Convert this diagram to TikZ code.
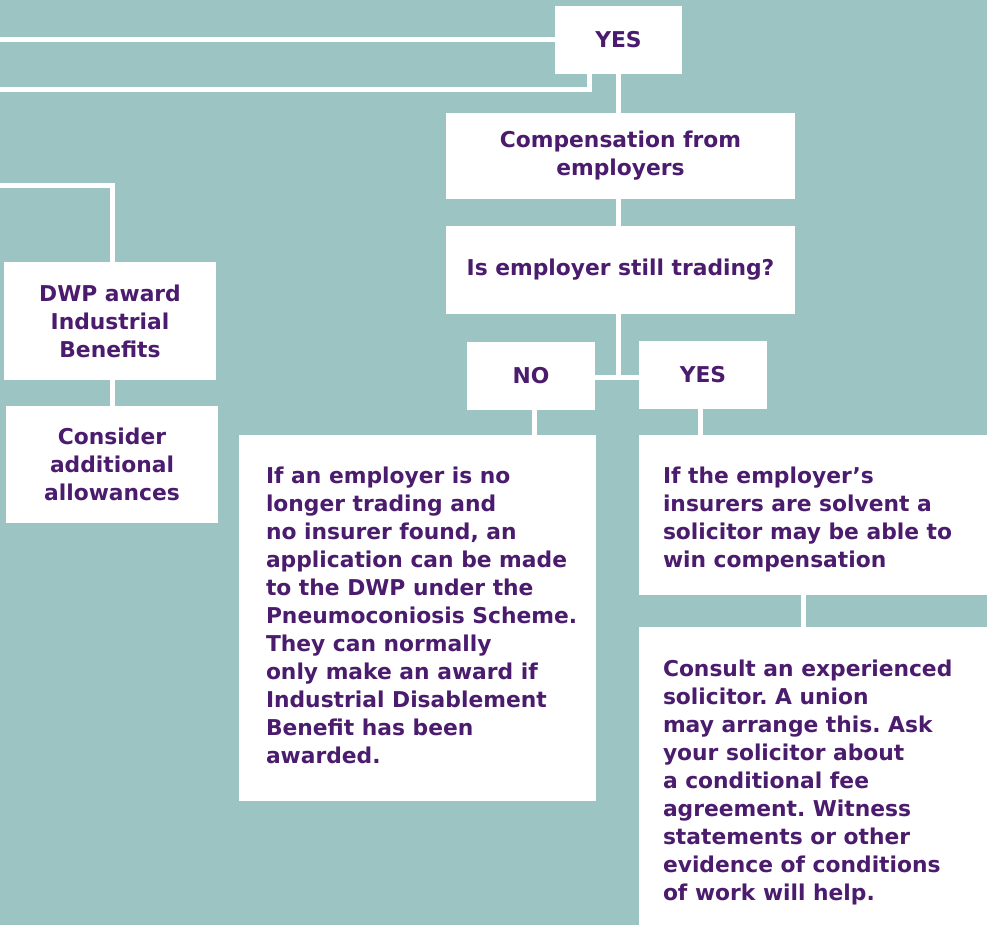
\documentclass[tikz,border=0pt]{standalone}
\usepackage{fontspec}
\setmainfont{DejaVu Sans}
\usetikzlibrary{positioning}
\definecolor{bgteal}{HTML}{9CC4C2}
\definecolor{txtpurple}{HTML}{4B1C6E}
\tikzset{
  box/.style={fill=white, inner sep=0pt},
  label txt/.style={text=txtpurple, font=\frenchspacing\bfseries\fontsize{21.8}{28}\selectfont, inner sep=0pt, align=center},
  side txt/.style={label txt, align=left, anchor=west},
  link/.style={draw=white, line width=5pt},
}

\begin{document}
\begin{tikzpicture}[x=1pt,y=-1pt]
	%%%%% BACKGROUND %%%%%
	\useasboundingbox[fill=bgteal] (0,0) rectangle (987,925);
	
	%%%%% SMALL BOXES %%%%%
	\node[box, label txt, minimum width=127, minimum height=68] (yesA) at (618.5,40) {YES};
	\node[box, label txt, minimum width=349, minimum height=86] (comp) at (620.5,156) {Compensation from\\employers};
	\node[box, label txt, minimum width=349, minimum height=87] (trade) at (620.5,270) {Is employer still trading?};
	\node[box, label txt, minimum width=128, minimum height=68] (no) at (531,375.5) {NO};
	\node[box, label txt, minimum width=128, minimum height=68] (yesB) at (703,374.5) {YES};
	\node[box, label txt, minimum width=212, minimum height=118] (dwp) at (110,321) {DWP award\\Industrial\\Benefits};
	\node[box, label txt, minimum width=212, minimum height=117] (cons) at (112,464.5) {Consider\\additional\\allowances};
	
	%%%%% TEXT BOXES %%%%%
	\node[box, minimum width=357, minimum height=366] (nofind) at (417.5,618) {};
	\node[side txt] (nofindtxt) at ([xshift=27, yshift=3]nofind.west) {If an employer is no\\longer trading and\\no insurer found, an\\application can be made\\to the DWP under the\\Pneumoconiosis Scheme.\\They can normally\\only make an award if\\Industrial Disablement\\Benefit has been\\awarded.};
	
	\node[box, minimum width=350, minimum height=160] (solvent) at (814,515) {};
	\node[side txt] (solventtxt) at ([xshift=24, yshift=-4]solvent.west) {If the employer’s\\insurers are solvent a\\solicitor may be able to\\win compensation};
	
	\node[box, minimum width=350, minimum height=303] (consult) at (814,778.5) {};
	\node[side txt] (consulttxt) at ([xshift=24, yshift=-4]consult.west) {Consult an experienced\\solicitor. A union\\may arrange this. Ask\\your solicitor about\\a conditional fee\\agreement. Witness\\statements or other\\evidence of conditions\\of work will help.};
	
	%%%%% LINKS %%%%%
	\coordinate (edgeA) at (0,40);
	\coordinate (edgeB) at (0,90);
	\coordinate (edgeC) at (0,186);
	\draw[link] (edgeA) -- (edgeA -| yesA.west);
	\draw[link] (edgeB) -| ([xshift=-29]yesA.south);
	\draw[link] (yesA.south) -- (yesA.south |- comp.north);
	\draw[link] (comp.south -| yesA.south) -- (trade.north -| yesA.south);
	\draw[link] (trade.south -| yesA.south) -- (yesA.south |- 0,379);
	\draw[link] (no.east |- 0,377) -- (yesB.west |- 0,377);
	\draw[link] ([xshift=3]no.south) -- ([xshift=3]no.south |- nofind.north);
	\draw[link] ([xshift=-3]yesB.south) -- ([xshift=-3]yesB.south |- solvent.north);
	\draw[link] ([xshift=-11]solvent.south) -- ([xshift=-11]solvent.south |- consult.north);
	\draw[link] (edgeC) -| ([xshift=2]dwp.north);
	\draw[link] ([xshift=2]dwp.south) -- ([xshift=2]dwp.south |- cons.north);
	
	%%%%% END %%%%%
\end{tikzpicture}
\end{document}
